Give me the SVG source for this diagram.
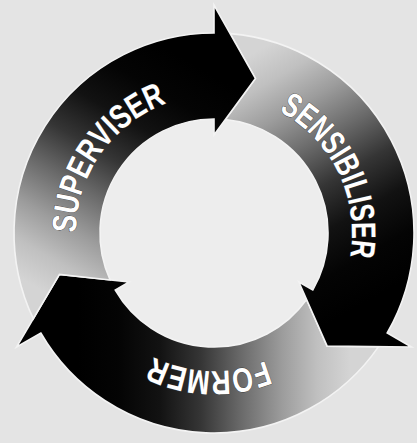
<svg xmlns="http://www.w3.org/2000/svg" width="417" height="443" viewBox="0 0 417 443">
<style>
  .arrow { fill: url(#g); stroke: #f3f3f3; stroke-width: 1.6; stroke-linejoin: miter; }
  .lbl { font-family: "Liberation Sans", Arial, sans-serif; font-weight: bold; font-size: 34px; fill: #ffffff; stroke: #3a3a3a; stroke-width: 0.8; paint-order: stroke; text-anchor: middle; }
</style>
<defs>
  <linearGradient id="g" gradientUnits="userSpaceOnUse" x1="214" y1="76" x2="350" y2="311.5">
    <stop offset="0" stop-color="#d4d4d4"/>
    <stop offset="0.12" stop-color="#c0c0c0"/>
    <stop offset="0.25" stop-color="#9c9c9c"/>
    <stop offset="0.4" stop-color="#6a6a6a"/>
    <stop offset="0.55" stop-color="#353535"/>
    <stop offset="0.7" stop-color="#121212"/>
    <stop offset="0.85" stop-color="#040404"/>
    <stop offset="1" stop-color="#000000"/>
  </linearGradient>
  <path id="arrow" d="M230.154,33.654 A200,200 0 0 1 387.205,333 L411.454,347 L327.137,346.137 L298.870,282 L312.727,290 A114,114 0 0 0 225.306,119.562 L255.411,78.452 Z"/>
  <path id="tp" d="M247.385,99.099 A138,138 0 0 1 340.069,289.130"/>
</defs>
<rect width="417" height="443" fill="#e4e4e4"/>
<circle cx="214" cy="233" r="114" fill="#ededed"/>
<g id="former" transform="rotate(120 214 233)">
  <use href="#arrow" class="arrow"/>
  <text class="lbl"><textPath href="#tp" startOffset="48%" textLength="116" lengthAdjust="spacingAndGlyphs">FORMER</textPath></text>
</g>
<g id="sensibiliser">
  <use href="#arrow" class="arrow"/>
  <text class="lbl"><textPath href="#tp" startOffset="50%" textLength="173" lengthAdjust="spacingAndGlyphs">SENSIBILISER</textPath></text>
</g>
<g id="superviser" transform="rotate(-120 214 233)">
  <use href="#arrow" class="arrow"/>
  <text class="lbl"><textPath href="#tp" startOffset="51%" textLength="168" lengthAdjust="spacingAndGlyphs">SUPERVISER</textPath></text>
</g>
</svg>
